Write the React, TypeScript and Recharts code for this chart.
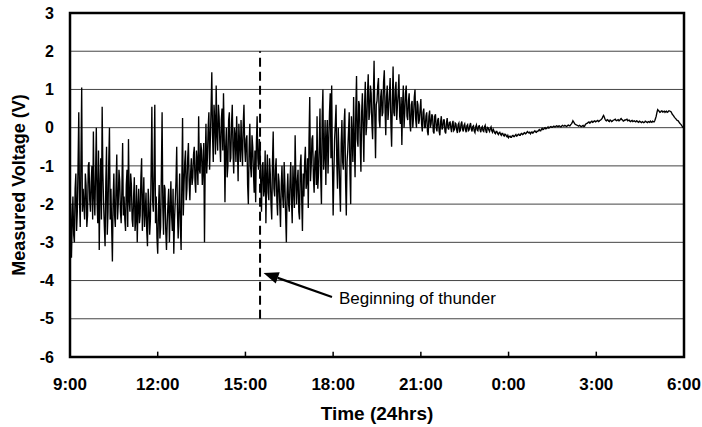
import React from 'react';
import {
    LineChart,
    Line,
    XAxis,
    YAxis,
    CartesianGrid,
    ReferenceLine,
    ReferenceArea,
} from 'recharts';

// readings every 3 minutes (0.05 h) from 9:00, plus the in-between readings (+1.5 min)
const STEP_HRS = 0.05;
const START_HR = 9;

const morningV = [
    -2.9, -3.4, -1.8, -3.0, -1.2, -2.2, 0.4, -2.6, 1.05, -1.6,
    -2.4, -1.5, -2.3, -0.9, -2.2, -1.0, -0.1, -2.3, 0.0, -2.5,
    -3.2, -0.8, 0.55, -2.0, -3.1, -0.5, -2.2, 0.0, -1.6, -3.5,
    -1.2, -2.6, -0.7, -2.0, -1.4, -2.5, -0.4, -1.8, -2.7, -1.1,
    -0.3, -2.2, -1.5, -2.6, -1.3, -2.4, -3.0, -1.6, -2.3, -0.8,
    -2.0, -2.6, -1.7, -3.1, -2.0, -2.4, 0.55, -2.2, 0.6, -1.8,
];
const morningMid = [
    -2.0, -2.5, -2.8, -1.6, -2.7, -1.0, -1.9, -0.8, -2.2, -2.0,
    -1.2, -2.6, -1.0, -1.9, -1.4, -2.4, -1.8, -1.2, -1.9, -0.6,
    -1.6, -2.4, -1.2, -2.6, -1.4, -2.8, -0.9, -2.4, -2.6, -1.9,
    -2.3, -1.5, -2.4, -1.1, -2.2, -1.6, -2.3, -2.4, -1.5, -2.6,
    -1.9, -1.2, -2.4, -1.8, -2.7, -1.5, -2.1, -2.5, -1.3, -2.7,
    -1.3, -2.2, -2.7, -1.6, -2.8, -1.1, -1.9, -1.1, -2.5, -2.9,
];

const middayV = [
    -3.3, -1.5, -2.6, 0.4, -2.8, -1.6, -3.2, -2.0, -3.0, -1.4,
    -2.7, -3.3, -1.9, -0.5, -2.9, -1.2, -3.2, 0.25, -1.5, -0.6,
    -1.6, -0.4, -1.9, -0.8, -1.3, -0.5, -1.7, -0.9, 0.3, -1.2,
    -0.6, -1.0, -3.0, 0.1, -0.8, 0.4, -0.3, 1.45, -0.9, 0.2,
    1.1, -0.6, 0.3, -0.9, 0.5, 0.9, -1.95, 0.0, -1.0, 0.4,
    -0.8, 0.6, -1.2, -0.2, 0.3, -1.4, -0.4, 0.2, -1.0, 0.6,
];
const middayMid = [
    -2.2, -2.9, -1.2, -2.1, -1.5, -2.7, -2.5, -1.6, -2.2, -2.3,
    -1.6, -2.4, -1.4, -2.2, -2.1, -2.6, -1.4, -2.3, -0.9, -1.9,
    -0.8, -1.4, -1.2, -1.5, -0.7, -1.4, -0.6, -1.5, -1.1, -0.4,
    -1.5, -0.4, -0.9, -1.2, 0.0, -1.1, 0.5, -0.2, 0.6, -0.7,
    -0.2, 0.6, -0.4, 0.2, -0.6, -0.3, -0.5, -1.3, 0.2, -0.9,
    0.1, -0.6, 0.0, -0.9, -0.5, 0.1, -0.9, -0.5, 0.1, -0.5,
];

const afternoonV = [
    -0.9, -0.2, -2.0, 0.1, -1.3, -0.5, -1.7, -1.95, 0.3, -1.1,
    -0.5, -2.2, -0.9, -1.6, -2.5, -0.7, -1.9, -1.2, -2.4, -0.1,
    -1.8, -0.8, -2.3, -1.4, -2.6, -1.0, -2.1, -1.5, -3.0, -1.2,
    -2.2, -0.9, -2.5, -1.6, -0.2, -2.0, -1.1, -2.4, -0.7, -2.7,
    -1.8, -0.5, -1.4, -2.1, 0.8, -1.0, -0.2, -1.7, -0.6, 0.3,
    -1.2, 0.5, -2.0, 1.0, -0.7, -1.5, 0.2, -0.4, 0.9, 1.1,
];
const afternoonMid = [
    -0.3, -1.5, -0.6, -1.0, -0.2, -1.2, -0.6, -0.4, -0.8, -0.3,
    -1.5, -1.0, -1.8, -0.6, -1.3, -1.7, -0.8, -2.0, -0.9, -1.6,
    -1.1, -1.9, -1.2, -2.0, -1.5, -1.8, -0.9, -2.3, -1.7, -2.0,
    -1.4, -1.9, -1.0, -2.1, -1.3, -1.4, -2.2, -1.0, -1.9, -1.2,
    -0.9, -1.6, -0.8, -0.3, -1.4, -0.3, -1.3, -0.8, -1.5, -1.6,
    -0.5, -1.3, 0.3, -1.1, 0.2, -0.3, -1.2, 0.4, -0.8, -0.9,
];

const eveningV = [
    -2.3, -0.3, 0.6, -1.6, -0.8, -2.2, 0.2, -1.1, 0.5, -2.3,
    -0.6, 0.4, -2.0, -0.2, 0.8, -1.3, 1.35, -0.5, 0.6, -1.15,
    0.9, -0.9, 1.2, 0.1, 1.4, 0.4, 0.9, -0.3, 1.75, -0.8,
    0.7, 1.3, 0.0, 1.0, 0.4, 1.5, -0.2, 1.1, 0.5, 1.3,
    -0.5, 1.6, 0.3, 1.2, 0.6, 1.4, 0.1, -0.45, 1.1, 0.4,
    1.1, 0.2, 0.9, -0.1, 0.7, 0.3, 1.0, 0.0, 0.6, 0.2,
];
const eveningMid = [
    -1.2, 0.1, -0.9, 0.0, -1.6, -0.4, -0.9, 0.1, -1.4, -0.9,
    -0.1, -1.2, 0.3, -0.9, -0.4, 0.5, -0.3, 0.7, -0.4, 0.4,
    0.0, 0.6, -0.2, 0.9, 0.2, 1.1, 0.1, 0.8, 0.3, 0.6,
    1.1, 0.2, 0.8, 0.3, 1.2, 0.5, 0.8, 0.2, 0.9, 0.1,
    0.7, 0.4, 1.0, 0.2, 0.9, 0.3, 0.8, 0.6, 0.0, 0.9,
    0.3, 0.7, 0.1, 0.6, 0.0, 0.8, 0.2, 0.7, 0.1, 0.5,
];

const nightV = [
    0.75, -0.1, 0.5, 0.0, 0.4, -0.2, 0.45, 0.1, 0.3, -0.15,
    0.35, -0.1, 0.25, -0.2, 0.3, 0.0, 0.2, -0.15, 0.25, -0.05,
    0.15, -0.12, 0.18, -0.05, 0.1, -0.14, 0.12, -0.08, 0.16, -0.1,
    0.1, -0.12, 0.08, -0.06, 0.12, -0.1, 0.05, -0.13, 0.07, -0.08,
    0.05, -0.12, 0.03, -0.1, 0.06, -0.14, 0.0, -0.1, 0.02, -0.12,
    -0.08, -0.16, -0.1, -0.18, -0.12, -0.2, -0.15, -0.22, -0.18, -0.24,
];
const nightMid = [
    0.1, 0.4, 0.0, 0.3, -0.1, 0.3, 0.0, 0.35, -0.1, 0.3,
    0.0, 0.2, -0.1, 0.15, -0.05, 0.2, -0.1, 0.12, 0.0, 0.14,
    0.0, 0.1, -0.08, 0.12, -0.06, 0.08, -0.1, 0.1, -0.04, 0.06,
    -0.05, 0.05, -0.08, 0.06, -0.04, 0.03, -0.09, 0.02, -0.06, 0.04,
    -0.06, 0.0, -0.08, 0.02, -0.09, 0.01, -0.06, -0.02, -0.08, -0.04,
    -0.14, -0.1, -0.15, -0.13, -0.17, -0.15, -0.2, -0.17, -0.22, -0.2,
];

const dawnV = [
    -0.26, -0.22, -0.25, -0.2, -0.23, -0.18, -0.21, -0.17, -0.2, -0.15,
    -0.17, -0.13, -0.15, -0.1, -0.14, -0.16, -0.11, -0.13, -0.08, -0.12,
    -0.1, -0.05, -0.08, -0.02, -0.04, 0.0, -0.02, 0.02, 0.0, 0.03,
    0.01, 0.04, 0.02, 0.05, 0.03, 0.04, 0.02, 0.06, 0.04, 0.05,
    0.04, 0.07, 0.05, 0.1, 0.18, 0.12, 0.08, 0.06, 0.04, 0.05,
    0.03, 0.06, 0.04, 0.1, 0.12, 0.15, 0.13, 0.17, 0.15, 0.18,
    0.16, 0.19, 0.17, 0.2, 0.24, 0.32, 0.22, 0.18, 0.2, 0.16,
    0.19, 0.17, 0.2, 0.22, 0.18, 0.21, 0.19, 0.24, 0.2, 0.18,
    0.2, 0.22, 0.19, 0.17, 0.18, 0.16, 0.18, 0.15, 0.17, 0.14,
    0.16, 0.13, 0.15, 0.14, 0.16, 0.13, 0.15, 0.17, 0.14, 0.16,
    0.18, 0.3, 0.47, 0.43, 0.41, 0.44, 0.42, 0.4, 0.43, 0.41,
    0.44, 0.42, 0.35, 0.3, 0.25, 0.2, 0.18, 0.12, 0.08, 0.02,
    0.0,
];
const dawnMid = [
    -0.23, -0.25, -0.21, -0.23, -0.2, -0.22, -0.18, -0.2, -0.16, -0.18,
    -0.14, -0.16, -0.12, -0.13, -0.12, -0.13, -0.14, -0.1, -0.11, -0.09,
    -0.07, -0.08, -0.04, -0.05, -0.01, -0.03, 0.0, -0.01, 0.02, 0.01,
    0.03, 0.02, 0.04, 0.03, 0.05, 0.02, 0.05, 0.04, 0.06, 0.03,
    0.06, 0.05, 0.08, 0.13, 0.15, 0.09, 0.07, 0.05, 0.06, 0.03,
    0.05, 0.03, 0.08, 0.11, 0.14, 0.12, 0.16, 0.14, 0.17, 0.15,
    0.18, 0.16, 0.19, 0.22, 0.29, 0.27, 0.19, 0.21, 0.17, 0.2,
    0.16, 0.19, 0.21, 0.19, 0.2, 0.18, 0.22, 0.21, 0.17, 0.2,
    0.21, 0.18, 0.2, 0.16, 0.19, 0.17, 0.16, 0.18, 0.15, 0.17,
    0.14, 0.16, 0.13, 0.17, 0.14, 0.16, 0.14, 0.15, 0.17, 0.15,
    0.24, 0.4, 0.45, 0.4, 0.44, 0.41, 0.43, 0.42, 0.4, 0.44,
    0.43, 0.39, 0.33, 0.27, 0.23, 0.19, 0.15, 0.1, 0.05, 0.01,
];

const xTicks = [9, 12, 15, 18, 21, 24, 27, 30];
const yTicks = [-6, -5, -4, -3, -2, -1, 0, 1, 2, 3];
const thunderStart = 15.5;
const annotation = 'Beginning of thunder';
// arrow tail (near text) and tip (at dashed line), in hours / volts
const arrowTail = { x: 17.96, y: -4.43 };
const arrowTip = { x: 15.62, y: -3.8 };

const mainReadings = [...morningV, ...middayV, ...afternoonV, ...eveningV, ...nightV, ...dawnV];
const midReadings = [...morningMid, ...middayMid, ...afternoonMid, ...eveningMid, ...nightMid, ...dawnMid];

const chartData: { t: number; v: number }[] = [];
mainReadings.forEach((v, i) => {
    const t = START_HR + i * STEP_HRS;
    chartData.push({ t, v });
    if (i < midReadings.length) chartData.push({ t: t + STEP_HRS / 2, v: midReadings[i] });
});

const FONT = '"Liberation Sans", Arial, sans-serif';

const fmtHour = (h: number) => `${Math.round(h) % 24}:00`;

const ArrowShape = (props: any) => {
    const { x1, y1, x2, y2 } = props;
    if ([x1, y1, x2, y2].some((n) => typeof n !== 'number')) return null;
    const ang = Math.atan2(y2 - y1, x2 - x1);
    const len = 15;
    const half = 6;
    const bx = x2 - len * Math.cos(ang);
    const by = y2 - len * Math.sin(ang);
    const px = -Math.sin(ang) * half;
    const py = Math.cos(ang) * half;
    return (
        <g>
            <line x1={x1} y1={y1} x2={bx} y2={by} stroke="#000" strokeWidth={2.2} />
            <polygon points={`${x2},${y2} ${bx + px},${by + py} ${bx - px},${by - py}`} fill="#000" />
            <text x={x1 + 7} y={y1 + 7} fontFamily={FONT} fontSize={17} fill="#000">
                {annotation}
            </text>
        </g>
    );
};

export default function App() {
    return (
        <div style={{ position: 'absolute', left: 0, top: 0, background: '#fff', fontFamily: FONT }}>
            <LineChart
                width={702}
                height={427}
                data={chartData}
                margin={{ top: 13, right: 18, left: 0, bottom: 0 }}
            >
                <CartesianGrid vertical={false} stroke="#444" strokeWidth={1} />
                <XAxis
                    dataKey="t"
                    type="number"
                    domain={[9, 30]}
                    ticks={xTicks}
                    tickFormatter={fmtHour}
                    axisLine={false}
                    tickLine={false}
                    tickSize={0}
                    tickMargin={21}
                    height={70}
                    interval={0}
                    tick={{ fontSize: 17, fontWeight: 'bold', fill: '#000', fontFamily: FONT }}
                    label={{
                        content: ({ viewBox }: any) => (
                            <text
                                x={viewBox.x + viewBox.width / 2}
                                y={420}
                                textAnchor="middle"
                                fontFamily={FONT}
                                fontSize={19}
                                fontWeight="bold"
                                fill="#000"
                            >
                                Time (24hrs)
                            </text>
                        ),
                    }}
                />
                <YAxis
                    type="number"
                    domain={[-6, 3]}
                    ticks={yTicks}
                    interval={0}
                    width={70}
                    axisLine={false}
                    tickLine={false}
                    tickSize={0}
                    tickMargin={16}
                    tick={{ fontSize: 16, fontWeight: 'bold', fill: '#000', fontFamily: FONT }}
                    label={{
                        content: ({ viewBox }: any) => {
                            const cx = 19;
                            const cy = viewBox.y + viewBox.height / 2;
                            return (
                                <text
                                    x={cx}
                                    y={cy}
                                    transform={`rotate(-90, ${cx}, ${cy})`}
                                    textAnchor="middle"
                                    dominantBaseline="central"
                                    fontFamily={FONT}
                                    fontSize={18}
                                    fontWeight="bold"
                                    fill="#000"
                                >
                                    Measured Voltage (V)
                                </text>
                            );
                        },
                    }}
                />
                <Line
                    type="linear"
                    dataKey="v"
                    stroke="#000"
                    strokeWidth={1.35}
                    dot={false}
                    isAnimationActive={false}
                />
                <ReferenceLine
                    segment={[{ x: thunderStart, y: -5 }, { x: thunderStart, y: 2 }]}
                    stroke="#000"
                    strokeWidth={2}
                    strokeDasharray="9 5"
                />
                <ReferenceLine
                    segment={[arrowTail, arrowTip]}
                    shape={ArrowShape}
                />
                {xTicks.slice(1, -1).map((t) => (
                    <ReferenceLine
                        key={t}
                        segment={[{ x: t, y: -6 }, { x: t, y: -5.86 }]}
                        stroke="#000"
                        strokeWidth={1.5}
                    />
                ))}
                <ReferenceArea
                    x1={9}
                    x2={30}
                    y1={-6}
                    y2={3}
                    fill="none"
                    fillOpacity={0}
                    stroke="#000"
                    strokeWidth={2.5}
                />
            </LineChart>
        </div>
    );
}
